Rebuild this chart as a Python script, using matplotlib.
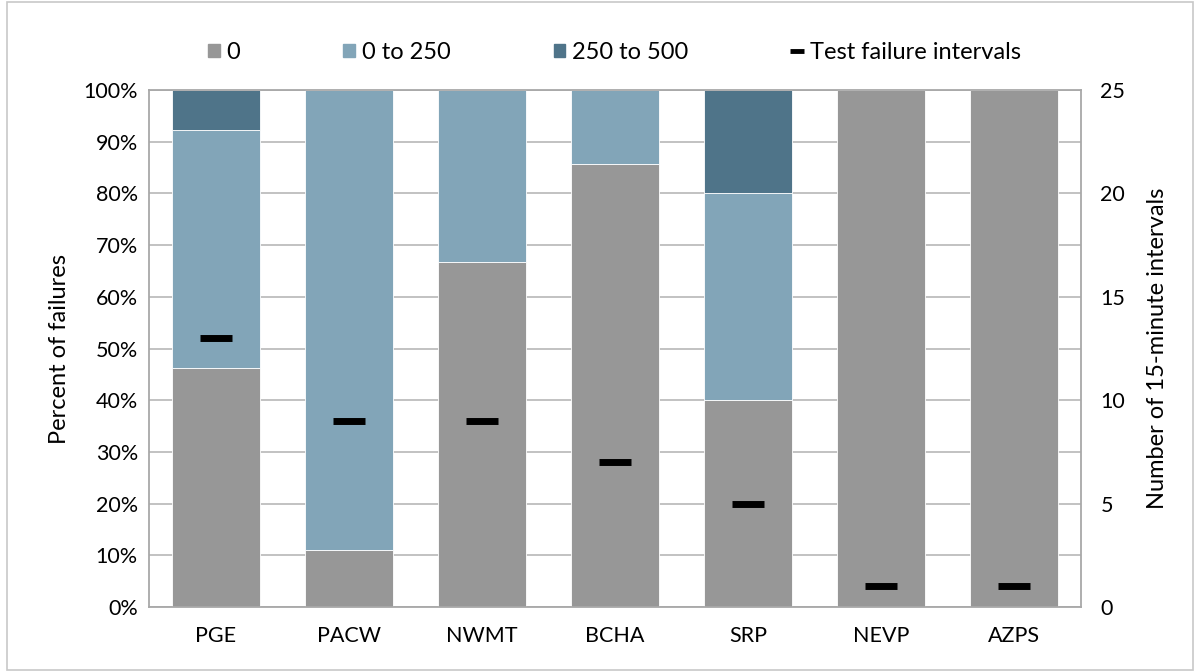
import numpy as np
import matplotlib
matplotlib.use('Agg')
import matplotlib.pyplot as plt
from matplotlib.lines import Line2D
from matplotlib.patches import Patch
from matplotlib.ticker import PercentFormatter

plt.rcParams['font.family'] = ['Lato', 'DejaVu Sans']

# data
regions = ['PGE', 'PACW', 'NWMT', 'BCHA', 'SRP', 'NEVP', 'AZPS']
pct_0 = [46.15, 11.11, 66.67, 85.71, 40.0, 100.0, 100.0]
pct_0_250 = [46.15, 88.89, 33.33, 14.29, 40.0, 0.0, 0.0]
pct_250_500 = [7.70, 0.0, 0.0, 0.0, 20.0, 0.0, 0.0]
test_intervals = [13, 9, 9, 7, 5, 1, 1]

c_gray = '#979797'
c_light = '#82a5b8'
c_dark = '#4f7489'
grid_c = '#bdbdbd'
FS_TICK = 15.5
FS_LAB = 17

fig = plt.figure(figsize=(11.98, 6.72), dpi=100)
ax = fig.add_axes([0.1244, 0.0967, 0.7779, 0.7693])
x = np.arange(len(regions))
w = 0.66
b1 = np.array(pct_0)
b2 = b1 + np.array(pct_0_250)
ax.bar(x, pct_0, w, color=c_gray, edgecolor='white', lw=0.6, zorder=2)
ax.bar(x, pct_0_250, w, bottom=b1, color=c_light, edgecolor='white', lw=0.6, zorder=2)
ax.bar(x, pct_250_500, w, bottom=b2, color=c_dark, edgecolor='white', lw=0.6, zorder=2)

ax.set_xlim(-0.5, len(regions) - 0.5)
ax.set_ylim(0, 100)
ax.set_yticks(np.arange(0, 101, 10))
ax.yaxis.set_major_formatter(PercentFormatter(decimals=0))
ax.set_xticks(x); ax.set_xticklabels(regions)
ax.grid(axis='y', color=grid_c, lw=1.3, zorder=0)
ax.set_axisbelow(True)
for s in ax.spines.values():
    s.set_color('#a8a8a8'); s.set_linewidth(1.3)
ax.tick_params(length=0, labelsize=FS_TICK, pad=8)
ax.tick_params(axis='x', pad=14)
ax.set_ylabel('Percent of failures', fontsize=FS_LAB, labelpad=10)

ax2 = ax.twinx()
ax2.plot(x, test_intervals, ls='none', marker='_', ms=23, mew=5, color='black', zorder=5)
ax2.set_ylim(0, 25)
ax2.set_yticks(np.arange(0, 26, 5))
ax2.tick_params(length=0, labelsize=FS_TICK, pad=14)
for s in ax2.spines.values():
    s.set_visible(False)
ax2.set_ylabel('Number of 15-minute intervals', fontsize=FS_LAB, labelpad=16)

handles = [Patch(color=c_gray, label='0'),
           Patch(color=c_light, label='0 to 250'),
           Patch(color=c_dark, label='250 to 500'),
           Line2D([], [], ls='none', marker='_', ms=10, mew=3.5, color='black',
                  label='Test failure intervals')]
fig.legend(handles=handles, loc='center', bbox_to_anchor=(0.513, 0.922), ncol=4,
           frameon=False, fontsize=FS_LAB, handlelength=0.5, handleheight=0.5,
           handletextpad=0.3, columnspacing=4.35)

fig.patches.append(plt.Rectangle((0.006, 0.003), 0.99, 0.994, transform=fig.transFigure,
                                 fill=False, edgecolor='#c8c8c8', lw=1.2))
fig.savefig('out.png', dpi=100)
